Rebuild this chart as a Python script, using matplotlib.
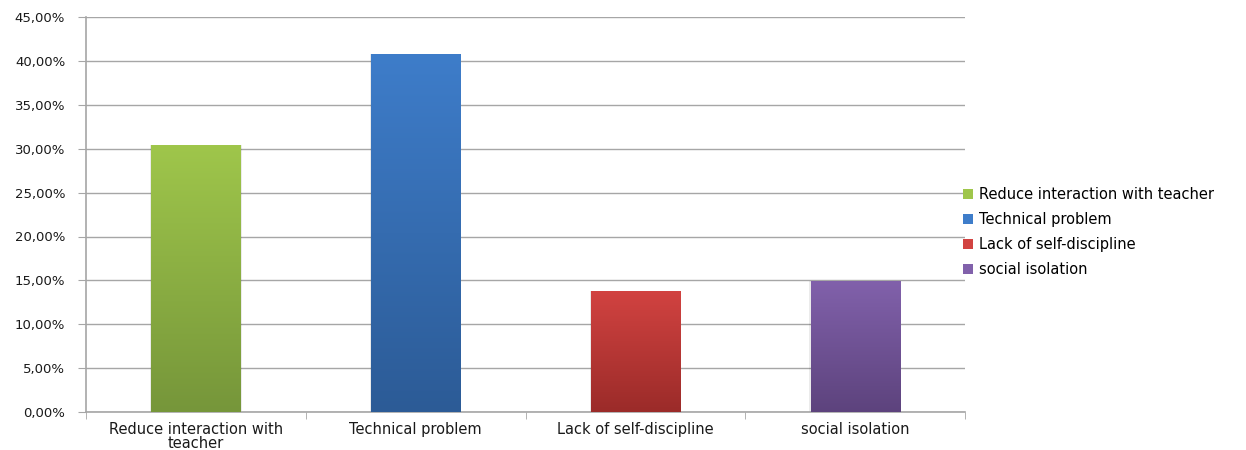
import matplotlib.pyplot as plt
import matplotlib.colors as mcolors
import numpy as np
from matplotlib.ticker import FuncFormatter, FixedLocator
from matplotlib.patches import Patch

categories = ["Reduce interaction with\nteacher", "Technical problem",
              "Lack of self-discipline", "social isolation"]
legend_labels = ["Reduce interaction with teacher", "Technical problem",
                 "Lack of self-discipline", "social isolation"]
values = [30.4, 40.8, 13.8, 14.9]
top_colors = ["#9fc64b", "#3e7dca", "#d24341", "#8161ab"]
bottom_colors = ["#76963a", "#2c5b96", "#9b2b29", "#5d437d"]

fig = plt.figure(figsize=(12.46, 4.5), dpi=100)
ax = fig.add_axes([0.069, 0.0844, 0.7055, 0.8776])

x = np.arange(len(categories))
bars = ax.bar(x, values, width=0.405, color="none", edgecolor="none", zorder=3)

# vertical gradient fill inside each bar
for patch, c_top, c_bot in zip(bars, top_colors, bottom_colors):
    x0, y0 = patch.get_x(), patch.get_y()
    w, h = patch.get_width(), patch.get_height()
    cmap = mcolors.LinearSegmentedColormap.from_list("g", [c_bot, c_top])
    grad = np.linspace(0, 1, 256).reshape(-1, 1)
    im = ax.imshow(grad, cmap=cmap, origin="lower", aspect="auto",
                   extent=(x0, x0 + w, y0, y0 + h), zorder=3)
    im.set_clip_path(patch)
    # soft shadow on the sides
    ax.bar(x0 + w / 2, h, width=w * 1.03, color="#000000", alpha=0.08,
           zorder=2.5)

ax.set_xlim(-0.5, len(categories) - 0.5)
ax.set_ylim(0, 45)
ax.set_yticks(np.arange(0, 46, 5))
ax.yaxis.set_major_formatter(FuncFormatter(lambda v, p: f"{v:.2f}%".replace(".", ",")))
ax.grid(axis="y", color="#a6a6a6", linewidth=1.0, zorder=0)
ax.set_axisbelow(True)

ax.set_xticks(x)
ax.set_xticklabels(categories, fontsize=10.5, color="#1a1a1a", linespacing=0.95)
ax.tick_params(axis="x", length=0, pad=7)
ax.xaxis.set_minor_locator(FixedLocator(np.arange(-0.5, len(categories), 1.0)))
ax.tick_params(axis="x", which="minor", length=5, color="#a6a6a6", direction="out")
ax.tick_params(axis="y", length=6, color="#a6a6a6", labelsize=9.5,
               labelcolor="#1a1a1a", pad=9)

for side in ["top", "right"]:
    ax.spines[side].set_visible(False)
for side in ["left", "bottom"]:
    ax.spines[side].set_color("#a6a6a6")
    ax.spines[side].set_linewidth(1.2)

handles = [Patch(facecolor=c, edgecolor="none") for c in top_colors]
fig.legend(handles, legend_labels, loc="center left",
           bbox_to_anchor=(0.7625, 0.484), frameon=False, fontsize=10.5,
           handlelength=0.7, handleheight=0.7, handletextpad=0.35,
           labelspacing=0.68)

fig.savefig("out.png", dpi=100)
